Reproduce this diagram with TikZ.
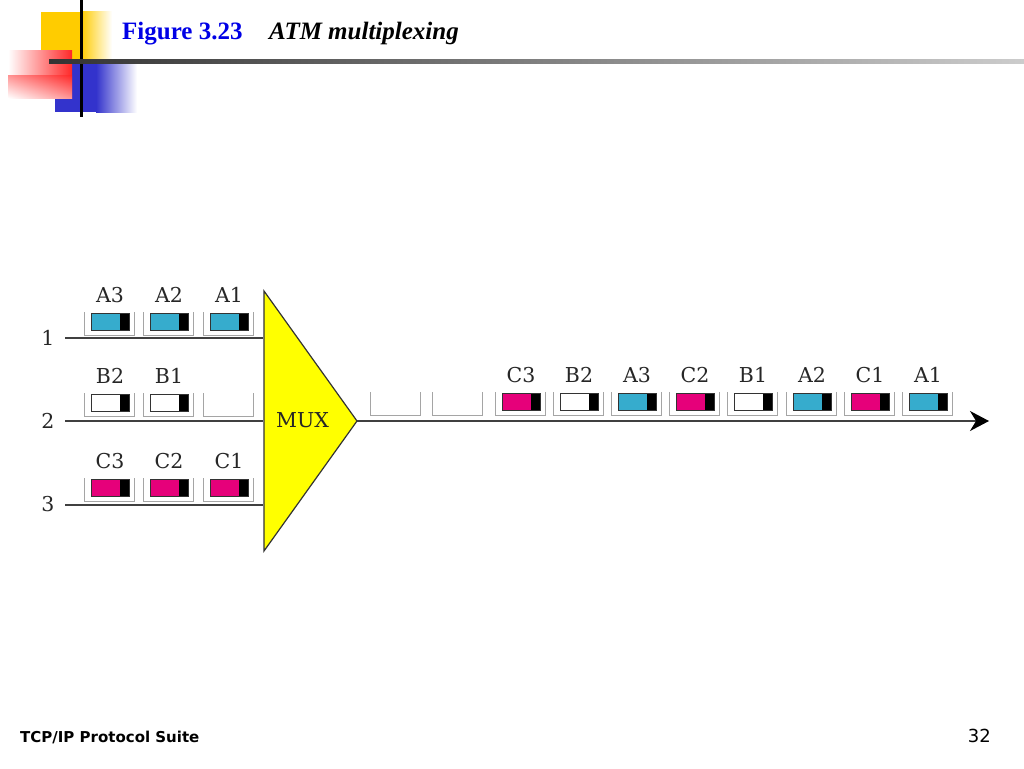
\documentclass[tikz,border=0pt]{standalone}
\usepackage{fontspec}
\setmainfont{Liberation Serif}
\newfontfamily\lblfont{DejaVu Serif}
\newfontfamily\footfont{DejaVu Sans}
\usetikzlibrary{arrows.meta}
\definecolor{cellcyan}{RGB}{54,172,205}
\definecolor{cellmag}{RGB}{230,0,122}
\definecolor{muxyellow}{RGB}{255,255,0}
\definecolor{logoyellow}{RGB}{255,204,0}
\definecolor{logored}{RGB}{255,40,40}
\definecolor{logoblue}{RGB}{51,51,204}
\definecolor{titleblue}{RGB}{0,0,230}
\definecolor{framegray}{RGB}{165,165,165}
\tikzset{
  lbl/.style={font=\lblfont\fontsize{20.5}{20.5}\selectfont, text=black!85, inner sep=0pt},
  wire/.style={draw=black!75, line width=1.4pt},
  framestyle/.style={draw=framegray, line width=1pt},
  cellbox/.style={draw=black!80, line width=0.8pt},
}
% \atmcell{name}{x0}{y0}{color or none}{label}
\newcommand\atmcell[5]{%
  \draw[framestyle] (#2,#3) -- (#2,#3+23) -- (#2+50,#3+23) -- (#2+50,#3);
  \ifx\relax#4\relax\else
    \fill[#4] (#2+7,#3+1) rectangle (#2+36,#3+18);
    \fill[black] (#2+36,#3+1) rectangle (#2+45,#3+18);
    \draw[cellbox] (#2+7,#3+1) rectangle (#2+45,#3+18);
  \fi
  \node[lbl] (#1) at (#2+26,#3-17) {#5};
}
\begin{document}
\begin{tikzpicture}[x=1pt,y=-1pt]
\useasboundingbox (0,0) rectangle (1024,768);
% ---- logo decoration ----
\fill[logoyellow] (41,12) rectangle (81,60);
\shade[left color=logoyellow, right color=white] (81,12) rectangle (112,60);
\fill[logoblue] (55,62) rectangle (96,112);
\shade[left color=logoblue, right color=white] (96,62) rectangle (137,112);
\shade[left color=white, right color=logored] (8,51) rectangle (72,98);
\shade[top color=white!0!logored, bottom color=white, opacity=0.5] (8,75) rectangle (72,98);
\fill[black] (80,0) rectangle (83,117);
\shade[left color=black!80, right color=black!20] (49,59.5) rectangle (1024,63);
% ---- title ----
\node[anchor=base west, inner sep=0pt, text=titleblue, font=\bfseries\fontsize{25}{25}\selectfont] (fig) at (122,40) {Figure 3.23};
\node[anchor=base west, inner sep=0pt, font=\bfseries\itshape\fontsize{25}{25}\selectfont] (ttl) at (269,40) {ATM multiplexing};
% ---- multiplexer ----
\coordinate (mt) at (264,291);
\coordinate (mb) at (264,551);
\coordinate (mo) at (357,421);
\fill[muxyellow] (mt) -- (mo) -- (mb) -- cycle;
\draw[black!80, line width=1.2pt, line join=miter] (mt) -- (mo) -- (mb) -- cycle;
\node[lbl, anchor=west] (mux) at (276,420) {MUX};
% ---- input lines ----
\node[lbl] (n1) at (48,338) {1};
\node[lbl] (n2) at (48,421) {2};
\node[lbl] (n3) at (48,504) {3};
\coordinate (i1) at (263,338);
\coordinate (i2) at (263,421);
\coordinate (i3) at (263,505);
\draw[wire] (65,338) -- (i1);
\draw[wire] (65,421) -- (i2);
\draw[wire] (65,505) -- (i3);
% ---- input cells ----
\atmcell{a3}{84}{312}{cellcyan}{A3}
\atmcell{a2}{143}{312}{cellcyan}{A2}
\atmcell{a1}{203}{312}{cellcyan}{A1}
\atmcell{b2}{84}{393}{white}{B2}
\atmcell{b1}{143}{393}{white}{B1}
\atmcell{be}{203}{393}{}{}
\atmcell{c3}{84}{478}{cellmag}{C3}
\atmcell{c2}{143}{478}{cellmag}{C2}
\atmcell{c1}{203}{478}{cellmag}{C1}
% ---- output line ----
\coordinate (oend) at (989,421);
\draw[wire, -{Stealth[length=19pt, width=20pt, inset=6pt, color=black, fill=black]}] (mo) -- (oend);
% ---- output cells ----
\atmcell{oe1}{370}{392}{}{}
\atmcell{oe2}{432}{392}{}{}
\atmcell{oc3}{495}{392}{cellmag}{C3}
\atmcell{ob2}{553}{392}{white}{B2}
\atmcell{oa3}{611}{392}{cellcyan}{A3}
\atmcell{oc2}{669}{392}{cellmag}{C2}
\atmcell{ob1}{727}{392}{white}{B1}
\atmcell{oa2}{786}{392}{cellcyan}{A2}
\atmcell{oc1}{844}{392}{cellmag}{C1}
\atmcell{oa1}{902}{392}{cellcyan}{A1}
% ---- footer ----
\node[anchor=base west, inner sep=0pt, font=\footfont\bfseries\fontsize{15}{15}\selectfont] (foot) at (20,742) {TCP/IP Protocol Suite};
\node[anchor=base east, inner sep=0pt, font=\footfont\fontsize{18}{18}\selectfont] (page) at (991,742) {32};
\end{tikzpicture}
\end{document}
